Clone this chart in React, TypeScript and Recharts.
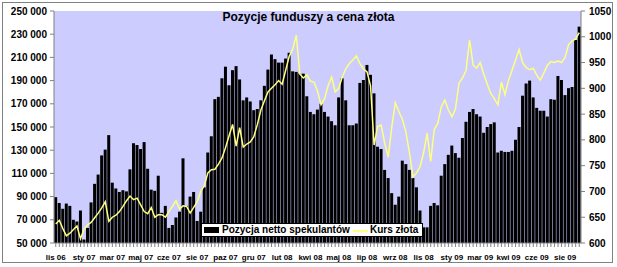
import { ComposedChart, Bar, Line, XAxis, YAxis, CartesianGrid } from "recharts";

// weekly net speculative position (contracts), from 14 Nov 2006
const positions = [
  89500, 84500, 79500, 84000, 82000, 70000, 68500, 78000, 53000, 63000,
  85000, 101000, 109000, 125500, 130500, 143000, 102000, 97000, 94000, 95500,
  94500, 113500, 136000, 134500, 131000, 137000, 114000, 96000, 95000, 108000,
  76000, 82000, 63000, 65500, 72000, 77000, 123000, 82000, 90000, 94000,
  69000, 77000, 98000, 128000, 142000, 174000, 176000, 192000, 202000, 186000,
  199000, 202500, 191000, 173000, 175500, 172000, 164500, 165500, 173000, 185500,
  199500, 212500, 208500, 205500, 205500, 209000, 214000, 198000, 197500, 196000,
  196000, 176500, 163000, 161000, 165000, 170000, 163000, 159000, 155000, 151500,
  175500, 192000, 173000, 151500, 151500, 153000, 188000, 190500, 203500, 195000,
  179000, 133000, 131000, 113000, 106000, 93000, 83000, 90000, 121000, 118000,
  113000, 106000, 98000, 78000, 63500, 63500, 82000, 84500, 82500, 108000,
  118000, 126000, 134000, 127500, 123500, 140500, 154500, 163000, 165500, 161000,
  159000, 145000, 150000, 152500, 154000, 128000, 129500, 128500, 128500, 129500,
  139000, 150000, 177000, 187500, 190000, 175500, 166500, 164000, 164000, 159000,
  174000, 173500, 194000, 190500, 177500, 183500, 184500, 225000, 236500,
];

// gold price, USD/oz
const goldPrice = [
  637, 644, 628, 614, 619, 626, 633, 608, 627, 635,
  640, 649, 658, 668, 680, 642, 650, 654, 661, 671,
  682, 691, 684, 687, 674, 661, 657, 669, 650, 655,
  655, 650, 661, 671, 682, 666, 672, 671, 658, 669,
  680, 700, 711, 736, 742, 743, 753, 765, 785, 808,
  830, 788, 824, 786, 792, 796, 806, 830, 858, 876,
  893, 900, 907, 915, 908, 935, 962, 976, 1003, 928,
  920, 926, 914, 912, 895, 868, 880, 905, 922, 893,
  900, 922, 938, 948, 955, 963, 948, 938, 932, 905,
  790, 826, 829, 794, 766, 825, 872, 855, 840, 815,
  775, 728, 736, 748, 775, 813, 758, 820, 832, 864,
  877, 858, 845, 860, 910, 920, 935, 994, 945, 939,
  950, 928, 908, 890, 880, 868, 912, 888, 915, 935,
  955, 975, 950, 940, 936, 939, 925, 916, 930, 945,
  952, 950, 953, 950, 960, 985, 992, 996, 1008,
];

// one label every 8 weeks
const monthLabels = [
  "lis 06", "sty 07", "mar 07", "maj 07", "cze 07", "sie 07", "paz 07",
  "gru 07", "lut 08", "kwi 08", "maj 08", "lip 08", "wrz 08", "lis 08",
  "sty 09", "mar 09", "kwi 09", "cze 09", "sie 09",
];
const LABEL_STEP = 8;

const posTicks = [50000, 70000, 90000, 110000, 130000, 150000, 170000, 190000, 210000, 230000, 250000];
const goldTicks = [600, 650, 700, 750, 800, 850, 900, 950, 1000, 1050];

const data = positions.map((pos, i) => ({ week: i, pos, gold: goldPrice[i] }));

const FONT = "Arial, 'Liberation Sans', sans-serif";
const GOLD = "#FFFF80";

const spaced = (v: number) => String(v).replace(/\B(?=(\d{3})+(?!\d))/g, " ");

// plain <text> so "250 000" does not get wrapped
function PosTick({ x, y, payload }: { x?: number; y?: number; payload?: { value: number } }) {
  return (
    <text
      x={x}
      y={y}
      dy={3.5}
      textAnchor="end"
      fill="#000"
      fontSize={10}
      fontWeight={700}
      fontFamily={FONT}
      style={{ whiteSpace: "pre" }}
    >
      {spaced(payload?.value ?? 0)}
    </text>
  );
}

export default function App() {
  return (
    <div style={{ position: "relative", width: 617, height: 267, background: "#fff", fontFamily: FONT }}>
      <style>{"body{margin:0}"}</style>
      <div
        style={{
          position: "absolute",
          left: 2,
          top: 2,
          width: 609,
          height: 259,
          border: "1px solid #808080",
        }}
      />
      <ComposedChart
        width={617}
        height={267}
        data={data}
        margin={{ top: 11, right: 3, bottom: 4, left: 4 }}
        barCategoryGap="5%"
      >
        <CartesianGrid fill="#CCCCFF" fillOpacity={1} stroke="none" horizontal={false} vertical={false} />
        <XAxis
          dataKey="week"
          interval={0}
          height={20}
          tickSize={4}
          tickMargin={7}
          tick={{ fill: "#000", fontSize: 8, fontWeight: 700, fontFamily: FONT }}
          tickFormatter={(v: number) => (v % LABEL_STEP === 0 ? monthLabels[v / LABEL_STEP] ?? "" : "")}
          axisLine={{ stroke: "#808080" }}
          tickLine={{ stroke: "#808080" }}
        />
        <YAxis
          yAxisId="pos"
          domain={[50000, 250000]}
          ticks={posTicks}
          width={50}
          tickSize={4}
          tickMargin={3}
          tick={<PosTick />}
          axisLine={{ stroke: "#808080" }}
          tickLine={{ stroke: "#808080" }}
        />
        <YAxis
          yAxisId="gold"
          orientation="right"
          domain={[600, 1050]}
          ticks={goldTicks}
          width={33}
          tickSize={4}
          tickMargin={4}
          tick={{ fill: "#000", fontSize: 10, fontWeight: 700, fontFamily: FONT }}
          axisLine={{ stroke: "#808080" }}
          tickLine={{ stroke: "#808080" }}
        />
        <Bar yAxisId="pos" dataKey="pos" fill="#000" isAnimationActive={false} />
        <Line
          yAxisId="gold"
          type="linear"
          dataKey="gold"
          stroke={GOLD}
          strokeWidth={1.5}
          dot={false}
          isAnimationActive={false}
        />
      </ComposedChart>

      <div
        style={{
          position: "absolute",
          left: 0,
          top: 10,
          width: 617,
          textAlign: "center",
          fontSize: 12,
          lineHeight: "14px",
          fontWeight: 700,
          color: "#000",
        }}
      >
        Pozycje funduszy a cena złota
      </div>

      <div
        style={{
          position: "absolute",
          left: 201,
          top: 223,
          width: 220,
          height: 12,
          background: "#fff",
          border: "1px solid #000",
          fontSize: 10,
          fontWeight: 700,
          lineHeight: "12px",
          color: "#000",
        }}
      >
        <span style={{ position: "absolute", left: 2, top: 3, width: 15, height: 6, background: "#000" }} />
        <span style={{ position: "absolute", left: 20, top: 0, whiteSpace: "nowrap" }}>Pozycja netto spekulantów</span>
        <span style={{ position: "absolute", left: 151, top: 6, width: 15, height: 1.5, background: GOLD }} />
        <span style={{ position: "absolute", left: 168, top: 0, whiteSpace: "nowrap" }}>Kurs złota</span>
      </div>
    </div>
  );
}
